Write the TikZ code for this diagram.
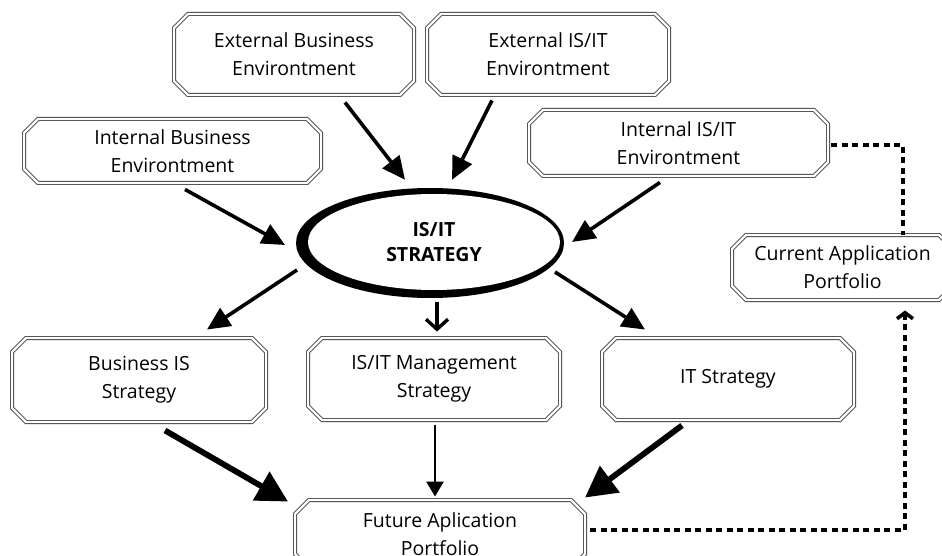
\documentclass[tikz,border=0pt]{standalone}
\usepackage{fontspec}
\setmainfont{Open Sans}
\usepackage{tikz}
\usetikzlibrary{shapes.misc}
\usetikzlibrary{shapes.geometric}
\usetikzlibrary{arrows.meta}

\begin{document}
\begin{tikzpicture}[x=1pt,y=-1pt,
		box/.style={chamfered rectangle,chamfered rectangle xsep=7pt,chamfered rectangle ysep=7pt,
			draw=black!75,line width=0.9pt,double=white,double distance=2.2pt,
			align=center,font=\fontsize{19.5}{28}\selectfont,inner sep=0pt},
		big/.style={line width=5.8pt,-{Triangle[length=31pt,width=32pt]}},
		mid/.style={line width=3.6pt,-{Triangle[length=23pt,width=21pt]}},
		dots/.style={line width=3.6pt,dash pattern=on 6pt off 4.5pt}]
		\useasboundingbox (0,0) rectangle (942,556);
		\node[box,minimum width=240pt,minimum height=81pt] (extbus) at (294,54.5) {External Business\\Environtment};
		\node[box,minimum width=242pt,minimum height=81pt] (extis) at (548,54.5) {External IS/IT\\Environtment};
		\node[box,minimum width=297pt,minimum height=64pt] (intbus) at (172.5,151) {Internal Business\\Environtment};
		\node[box,minimum width=299pt,minimum height=66pt] (intis) at (678.5,143) {Internal IS/IT\\Environtment};
		\node[box,minimum width=221pt,minimum height=65pt] (current) at (842.5,267.5) {Current Application\\Portfolio};
		\node[box,minimum width=254pt,minimum height=84pt] (busis) at (139,380) {Business IS\\Strategy};
		\node[box,minimum width=252pt,minimum height=82pt] (mgmt) at (434,379) {IS/IT Management\\Strategy};
		\node[box,minimum width=252pt,minimum height=82pt] (itstrat) at (728,379) {IT Strategy};
		\node[box,minimum width=290pt,minimum height=68pt] (future) at (440,534) {Future Aplication\\Portfolio};
		\fill (430,243) ellipse [x radius=134,y radius=55];
		\node[ellipse,fill=white,minimum width=252pt,minimum height=96pt,inner sep=0pt,align=center,
			font=\fontsize{19.5}{25}\selectfont\bfseries] (strategy) at (434,242)
			{\raisebox{-5pt}{IS/IT}\\\raisebox{-5pt}{STRATEGY}};
		\draw[mid] ([shift={(51,7)}]extbus.south) -- ([shift={(-29,-14)}]strategy.north);
		\draw[mid] ([shift={(-56,5)}]extis.south) -- ([shift={(18,-14)}]strategy.north);
		\draw[mid] ([shift={(12.5,6)}]intbus.south) -- ([shift={(-149,3)}]strategy.center);
		\draw[mid] ([shift={(-18.5,6)}]intis.south) -- ([shift={(138,0)}]strategy.center);
		\draw[mid] ([shift={(-137,28)}]strategy.center) -- ([shift={(68,-8)}]busis.north);
		\draw[mid] ([shift={(121,30)}]strategy.center) -- ([shift={(-83,-8)}]itstrat.north);
		\draw[line width=3.4pt,-{Straight Barb[length=10pt,width=22pt]}] ([shift={(3,12)}]strategy.south) -- ([shift={(3,-6)}]mgmt.north);
		\draw[big] ([shift={(26,8)}]busis.south) -- ([shift={(-152,2)}]future.north);
		\draw[big] ([shift={(-46,5)}]itstrat.south) -- ([shift={(145,-2)}]future.north);
		\draw[line width=2.6pt,-{Triangle[length=15pt,width=17pt]}] ([shift={(1,5)}]mgmt.south) -- ([shift={(-5,-3)}]future.north);
		\draw[dots] ([shift={(3,2)}]intis.east) -| ([xshift=60.5pt]current.north);
		\draw[dots,-{Straight Barb[length=6pt,width=16pt]}] ([shift={(5,-4)}]future.east) -| ([shift={(62.5,10)}]current.south);
\end{tikzpicture}
\end{document}
